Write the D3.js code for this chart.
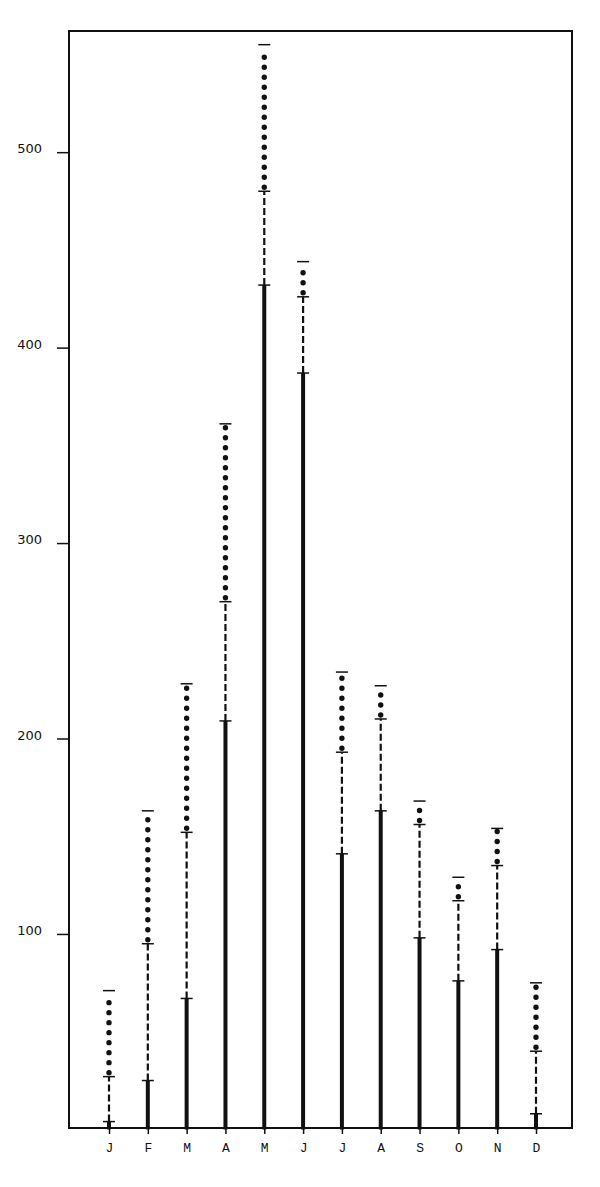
<!DOCTYPE html>
<html>
<head>
<meta charset="utf-8">
<script src="https://cdn.jsdelivr.net/npm/d3@7"></script>
<style>
  body { margin: 0; background: #fff; }
  .axis text { fill: #111; }
  .axis line { stroke: #111; stroke-width: 1.5; }
</style>
</head>
<body>
<div id="chart"></div>
<script>
// monthly values, three stacked levels per month
var months = ["J", "F", "M", "A", "M", "J", "J", "A", "S", "O", "N", "D"];
var solidTop  = [4, 25, 67, 209, 432, 387, 141, 163, 98, 76, 92, 8];
var dashedTop = [27, 95, 152, 270, 480, 426, 193, 210, 156, 117, 135, 40];
var dottedTop = [71, 163, 228, 361, 555, 444, 234, 227, 168, 129, 154, 75];
var yTicks = [100, 200, 300, 400, 500];

var margin = {top: 31, right: 28, bottom: 59, left: 69},
    width = 600 - margin.left - margin.right,
    height = 1187 - margin.top - margin.bottom;

var data = months.map(function(m, i) {
  return {i: i, month: m, a: solidTop[i], b: dashedTop[i], c: dottedTop[i]};
});

var x = d3.scalePoint()
    .domain(d3.range(months.length))
    .range([40, 467]);
var y = d3.scaleLinear()
    .domain([0, 562])
    .range([height + 1.4, 0]);

var svg = d3.select("#chart").append("svg")
    .attr("width", 600)
    .attr("height", 1187)
  .append("g")
    .attr("transform", "translate(" + margin.left + "," + margin.top + ")");

// y axis, ticks pointing outwards
svg.append("g")
    .attr("class", "axis")
    .call(d3.axisLeft(y).tickValues(yTicks).tickSize(12).tickPadding(15))
    .call(function(g) { g.select(".domain").remove(); })
    .selectAll("text")
      .attr("dy", "0.05em")
      .attr("font-family", "DejaVu Sans, sans-serif")
      .attr("font-size", "13px");

// x axis with month letters
svg.append("g")
    .attr("class", "axis")
    .attr("transform", "translate(0," + height + ")")
    .call(d3.axisBottom(x).tickSize(6).tickPadding(9)
      .tickFormat(function(d) { return months[d]; }))
    .call(function(g) { g.select(".domain").remove(); })
    .selectAll("text")
      .attr("font-family", "Courier New, Liberation Mono, monospace")
      .attr("font-size", "13px");

var bars = svg.selectAll(".month")
    .data(data)
  .enter().append("g")
    .attr("class", "month");

// solid part
bars.append("line")
    .attr("x1", function(d) { return x(d.i); })
    .attr("x2", function(d) { return x(d.i); })
    .attr("y1", y(0))
    .attr("y2", function(d) { return y(d.a); })
    .attr("stroke", "#111")
    .attr("stroke-width", 4);

// dashed part
bars.append("line")
    .attr("x1", function(d) { return x(d.i); })
    .attr("x2", function(d) { return x(d.i); })
    .attr("y1", function(d) { return y(d.a); })
    .attr("y2", function(d) { return y(d.b); })
    .attr("stroke", "#111")
    .attr("stroke-width", 2.2)
    .attr("stroke-dasharray", "7,3");

// dotted part
bars.append("line")
    .attr("x1", function(d) { return x(d.i); })
    .attr("x2", function(d) { return x(d.i); })
    .attr("y1", function(d) { return y(d.b); })
    .attr("y2", function(d) { return y(d.c) + 3; })
    .attr("stroke", "#111")
    .attr("stroke-width", 5.4)
    .attr("stroke-linecap", "round")
    .attr("stroke-dasharray", "0,10")
    .attr("stroke-dashoffset", 6);

// caps at each level
["a", "b", "c"].forEach(function(k) {
  bars.append("line")
      .attr("x1", function(d) { return x(d.i) - 6; })
      .attr("x2", function(d) { return x(d.i) + 6; })
      .attr("y1", function(d) { return y(d[k]); })
      .attr("y2", function(d) { return y(d[k]); })
      .attr("stroke", "#111")
      .attr("stroke-width", 1.5);
});

// frame
svg.append("rect")
    .attr("x", 0)
    .attr("y", 0)
    .attr("width", width)
    .attr("height", height)
    .attr("fill", "none")
    .attr("stroke", "#111")
    .attr("stroke-width", 2);
</script>
</body>
</html>
